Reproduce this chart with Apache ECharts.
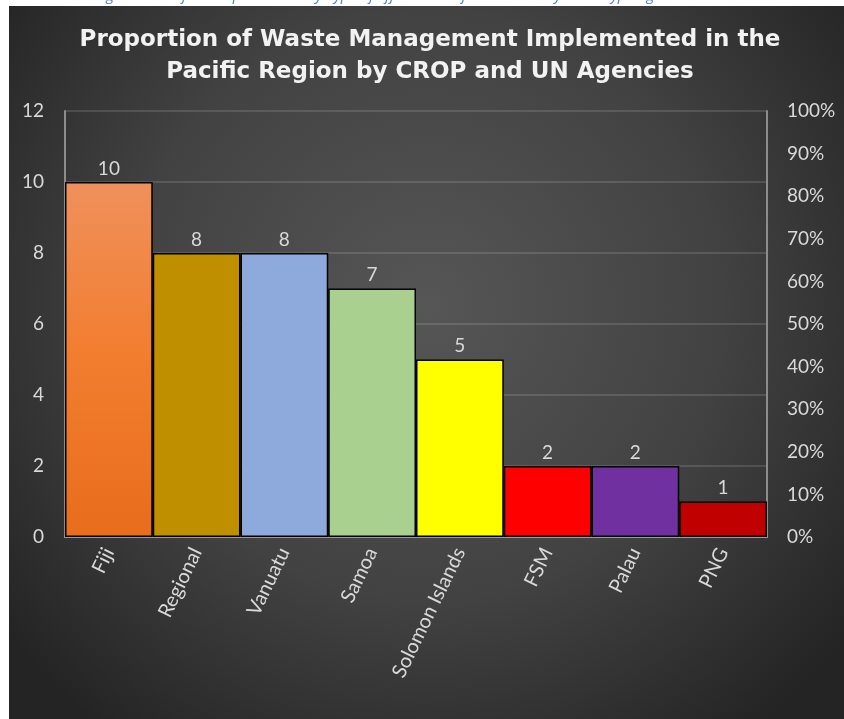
<!DOCTYPE html>
<html>
<head>
<meta charset="utf-8">
<script src="https://cdn.jsdelivr.net/npm/echarts@6/dist/echarts.min.js"></script>
<style>
  html, body { margin: 0; padding: 0; background: #ffffff; }
  #chart { width: 844px; height: 719px; }
</style>
</head>
<body>
<div id="chart"></div>
<script>
// ---- data ----
const categories = ['Fiji', 'Regional', 'Vanuatu', 'Samoa', 'Solomon Islands', 'FSM', 'Palau', 'PNG'];
const projectCounts = [10, 8, 8, 7, 5, 2, 2, 1];
const leftTicks = { min: 0, max: 12, interval: 2 };
const rightTicks = { min: 0, max: 1, interval: 0.1 };
const titleLines = ['Proportion of Waste Management Implemented in the', 'Pacific Region by CROP and UN Agencies'];
const captionText = 'Waste Management Projects Implemented by Type of effort in Pacific countries by CROP type agencies';

// ---- styles ----
const barColors = [
  null, '#BF8F00', '#8EA9DB', '#A9D08E', '#FFFF00', '#FF0000', '#7030A0', '#C00000'
];
const fijiGradient = new echarts.graphic.LinearGradient(0, 0, 0, 1, [
  { offset: 0, color: '#F0905C' },
  { offset: 0.5, color: '#F27D2E' },
  { offset: 1, color: '#E86D1C' }
]);
const textColor = '#D9D9D9';
const fontFamily = 'Lato, "Open Sans", sans-serif';

const chart = echarts.init(document.getElementById('chart'), null, { renderer: 'canvas' });

const seriesData = projectCounts.map((v, i) => ({
  value: v,
  itemStyle: { color: i === 0 ? fijiGradient : barColors[i] }
}));

const titleStyle = {
  fill: '#F2F2F2', align: 'center', verticalAlign: 'middle',
  font: 'bold 23px "DejaVu Sans", sans-serif',
  shadowBlur: 3, shadowColor: 'rgba(0,0,0,0.6)', shadowOffsetX: 1, shadowOffsetY: 1
};

chart.setOption({
  backgroundColor: 'transparent',
  animation: false,
  graphic: [
    {
      type: 'text', x: 24, y: -12, z: -5,
      style: { text: captionText, fill: '#4A7EC9', font: 'italic 15px "Open Sans", sans-serif' }
    },
    {
      type: 'rect', z: -1, silent: true,
      shape: { x: 9, y: 6, width: 835, height: 713 },
      style: {
        fill: new echarts.graphic.RadialGradient(0.5, 0.42, 0.75, [
          { offset: 0, color: '#565656' },
          { offset: 0.55, color: '#424242' },
          { offset: 1, color: '#242424' }
        ])
      }
    },
    { type: 'text', x: 430, y: 40, z: 10, style: Object.assign({ text: titleLines[0] }, titleStyle) },
    { type: 'text', x: 430, y: 72, z: 10, style: Object.assign({ text: titleLines[1] }, titleStyle) }
  ],
  grid: { left: 65, right: 77, top: 111, bottom: 182, containLabel: false },
  xAxis: [{
    type: 'category',
    data: categories,
    axisLine: { show: true, lineStyle: { color: '#9A9A9A', width: 2 } },
    axisTick: { show: false },
    axisLabel: {
      color: textColor, fontSize: 20, fontFamily: fontFamily,
      rotate: 64, margin: 12, interval: 0
    },
    splitLine: { show: false }
  }],
  yAxis: [
    {
      type: 'value', position: 'left',
      min: leftTicks.min, max: leftTicks.max, interval: leftTicks.interval,
      axisLine: { show: true, lineStyle: { color: '#8C8C8C', width: 2 } },
      axisTick: { show: false },
      axisLabel: { color: textColor, fontSize: 19, fontFamily: fontFamily, margin: 21 },
      splitLine: { show: true, lineStyle: { color: 'rgba(255,255,255,0.17)', width: 1.5 } }
    },
    {
      type: 'value', position: 'right',
      min: rightTicks.min, max: rightTicks.max, interval: rightTicks.interval,
      axisLine: { show: true, lineStyle: { color: '#8C8C8C', width: 2 } },
      axisTick: { show: false },
      axisLabel: {
        color: textColor, fontSize: 19, fontFamily: fontFamily, margin: 20,
        formatter: v => Math.round(v * 100) + '%'
      },
      splitLine: { show: false }
    }
  ],
  series: [{
    type: 'bar',
    xAxisIndex: 0, yAxisIndex: 0,
    data: seriesData,
    barCategoryGap: '0%',
    itemStyle: { borderColor: '#000000', borderWidth: 1.5 },
    label: {
      show: true, position: 'top', distance: 4,
      color: textColor, fontSize: 19, fontFamily: fontFamily
    }
  }]
});
</script>
</body>
</html>
